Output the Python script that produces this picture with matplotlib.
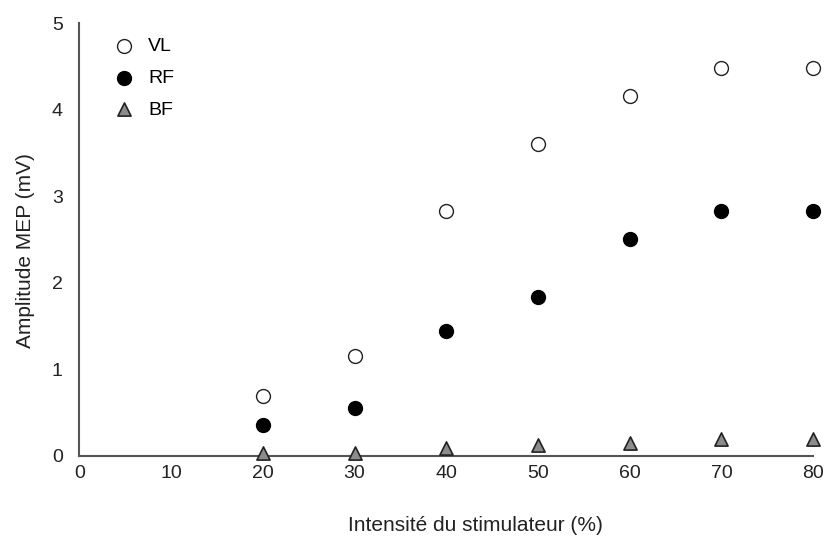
import matplotlib
matplotlib.use("Agg")
import matplotlib.pyplot as plt

plt.rcParams["font.family"] = ["Liberation Sans", "DejaVu Sans"]

intensity = [20, 30, 40, 50, 60, 70, 80]
vl = [0.69, 1.15, 2.83, 3.60, 4.16, 4.48, 4.48]
rf = [0.36, 0.55, 1.44, 1.84, 2.51, 2.83, 2.83]
bf = [0.03, 0.03, 0.09, 0.12, 0.15, 0.19, 0.19]

fig = plt.figure(figsize=(8.28, 5.4), dpi=100)
ax = fig.add_axes([0.096, 0.156, 0.886, 0.801])

ax.scatter(intensity, vl, s=100, facecolor="white", edgecolor="#222222", linewidth=1.0, label="VL", zorder=3, clip_on=False)
ax.scatter(intensity, rf, s=100, facecolor="black", edgecolor="black", linewidth=1.0, label="RF", zorder=3, clip_on=False)
ax.scatter(intensity, bf, s=90, marker="^", facecolor="#8c8c8c", edgecolor="#222222", linewidth=1.2, label="BF", zorder=3, clip_on=False)

ax.set_xlim(0, 80)
ax.set_ylim(0, 5)
ax.set_xticks(range(0, 81, 10))
ax.set_yticks(range(0, 6))
ax.tick_params(length=0, labelsize=14, colors="#222222")
ax.tick_params(axis="y", pad=12)
ax.tick_params(axis="x", pad=7)
for side in ["top", "right"]:
    ax.spines[side].set_visible(False)
for side in ["left", "bottom"]:
    ax.spines[side].set_color("#555555")
    ax.spines[side].set_linewidth(1.5)

ax.set_xlabel("Intensité du stimulateur (%)", fontsize=15, labelpad=24, color="#222222", x=0.54)
ax.set_ylabel("Amplitude MEP (mV)", fontsize=15, labelpad=12, color="#222222", y=0.475)

ax.legend(loc="upper left", bbox_to_anchor=(0.01, 1.007), frameon=False, fontsize=14,
          handletextpad=0.25, labelspacing=0.72, borderaxespad=0.5)

fig.savefig("out.png", dpi=100)
